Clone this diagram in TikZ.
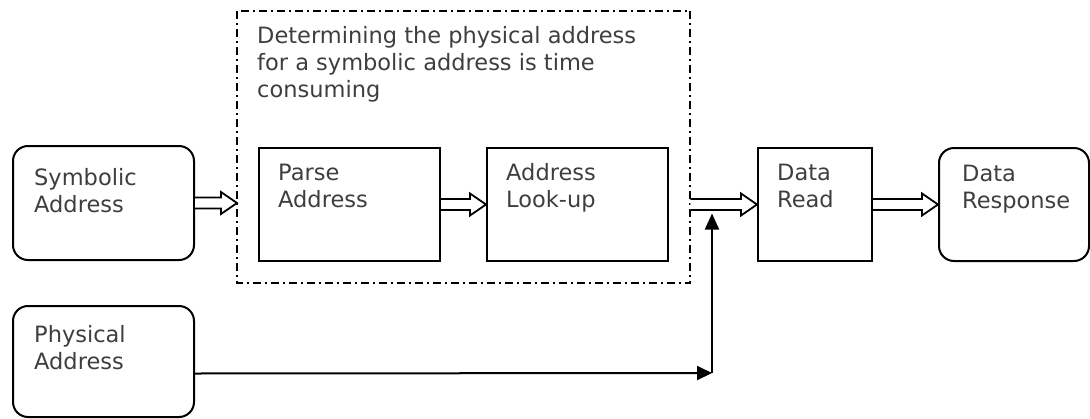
\documentclass[tikz,border=0pt]{standalone}
\usepackage{fontspec}
\setmainfont{DejaVu Sans}
\usetikzlibrary{calc,arrows.meta}
\definecolor{txt}{RGB}{62,62,62}
\newcommand\hollowarr[2]{%
  \draw[harr] ($(#1)+(0,-5.5)$) -- ($(#2)+(-16,-5.5)$) -- ($(#2)+(-16,-11)$) -- (#2)
    -- ($(#2)+(-16,11)$) -- ($(#2)+(-16,5.5)$) -- ($(#1)+(0,5.5)$);}
\begin{document}
\begin{tikzpicture}[x=1pt,y=-1pt,
  box/.style={draw=black,line width=2pt,rectangle,inner sep=0pt,anchor=north west},
  rbox/.style={box,rounded corners=15pt},
  lbl/.style={text=txt,font=\fontsize{22.5}{27}\selectfont,align=left,anchor=north west,inner sep=0pt},
  harr/.style={draw=black,line width=1.8pt,fill=white,line join=miter},
  thin/.style={draw=black,line width=2pt},
  dashbox/.style={draw=black,line width=2pt,dash pattern=on 8pt off 4pt on 2pt off 4pt}]
\clip (0,0) rectangle (1090,418);
% boxes
\node[rbox,minimum width=181pt,minimum height=114pt] (sa) at (12,145) {};
\node[rbox,minimum width=181pt,minimum height=111pt] (pa) at (12,305) {};
\node[box,minimum width=181pt,minimum height=113pt] (pp) at (258,147) {};
\node[box,minimum width=181pt,minimum height=113pt] (lu) at (486,147) {};
\node[box,minimum width=114pt,minimum height=113pt] (dr) at (757,147) {};
\node[rbox,minimum width=150pt,minimum height=113pt] (rs) at (938,147) {};
\node[draw=none,inner sep=0pt,minimum width=453pt,minimum height=272pt,anchor=north west] (db) at (237,11) {};
\draw[dashbox] (db.north west) rectangle (db.south east);
% labels
\node[lbl] (tt) at (257,26.5) {Determining the physical address\\for a symbolic address is time\\consuming};
\node[lbl] (saT) at (34,168.5) {Symbolic\\Address};
\node[lbl] (paT) at (34,325.5) {Physical\\Address};
\node[lbl] (ppT) at (278,163.5) {Parse\\Address};
\node[lbl] (luT) at (506,163.5) {Address\\Look-up};
\node[lbl] (drT) at (777,163.5) {Data\\Read};
\node[lbl] (rsT) at (962,164.5) {Data\\Response};
% hollow arrows
\coordinate (a1) at (db.west |- sa.east);
\hollowarr{sa.east}{a1}
\hollowarr{pp.east}{lu.west}
\coordinate (a2) at (db.east |- dr.west);
\hollowarr{a2}{dr.west}
\hollowarr{dr.east}{rs.west}
% physical address path
\coordinate (j) at (712,373);
\coordinate (t) at (712,213.5);
\draw[thin,-{Triangle[length=15pt,width=14pt]}] ($(pa.east)+(0,12)$) -- (j);
\draw[thin,-{Triangle[length=16pt,width=14pt]}] (j) -- (t);
\end{tikzpicture}
\end{document}
